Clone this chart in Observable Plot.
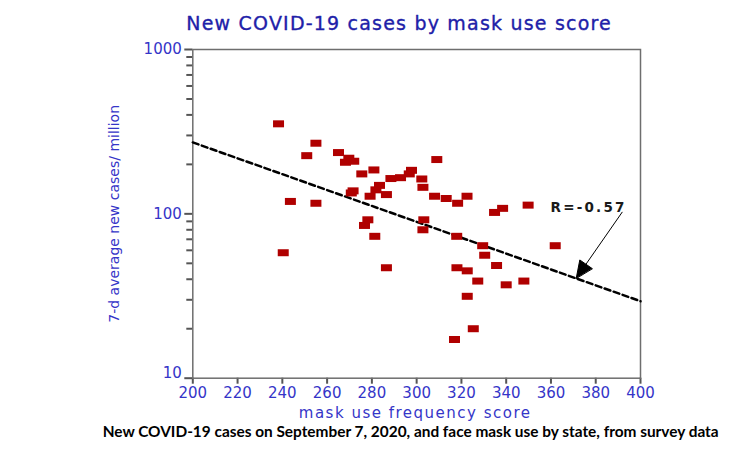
<!DOCTYPE html>
<html>
<head>
<meta charset="utf-8">
<script src="https://cdn.jsdelivr.net/npm/d3@7"></script>
<script src="https://cdn.jsdelivr.net/npm/@observablehq/plot@0.6"></script>
<style>
  body { margin: 0; background: #fff; }
  #chart svg { display: block; }
</style>
</head>
<body>
<div id="chart"></div>
<script>
// ---- data ----
const maskScore = [238.3, 255.0, 250.9, 265.1, 269.7, 268.2, 271.9, 275.5, 280.9, 288.5,
  292.8, 297.7, 296.7, 309.0, 302.3, 302.8, 271.6, 270.8, 283.4, 281.8,
  279.2, 286.5, 243.6, 255.0, 308.0, 313.2, 318.3, 322.5, 334.8, 338.4,
  349.8, 278.2, 276.7, 303.2, 302.8, 281.3, 317.9, 329.5, 330.4, 361.9,
  335.7, 240.4, 286.5, 318.0, 322.6, 327.3, 340.0, 347.9, 322.6, 325.3, 316.9];
const casesPerMillion = [353, 269, 226, 236, 218, 206, 209, 175, 185, 164,
  166, 184, 175, 214, 163, 145, 138, 134, 149, 140,
  128, 131, 119, 116, 128, 124, 116, 128, 102, 108,
  113, 92, 85, 92, 80, 73, 73, 64, 56, 64,
  48.5, 58, 47, 47, 45, 39, 37, 39, 31.5, 20, 17.2];

const xTicks = [200, 220, 240, 260, 280, 300, 320, 340, 360, 380, 400];
const yMajorTicks = [100, 1000];
const yBottomTick = [10];
const yMinorTicks = [20, 30, 40, 50, 60, 70, 80, 90, 200, 300, 400, 500, 600, 700, 800, 900];

const fitX = [200, 400];
const fitY = [272, 29.4];

const arrowFrom = [391.8, 102.3];
const arrowTo = [371.3, 40.6];
const rText = "R=-0.57";
const rPos = [376.8, 109.7];

const titleText = "New COVID-19 cases by mask use score";
const xLabel = "mask use frequency score";
const yLabel = "7-d average new cases/ million";
const captionText = "New COVID-19 cases on September 7, 2020, and face mask use by state, from survey data";

// ---- tables built from the arrays ----
const points = maskScore.map((x, i) => ({x, y: casesPerMillion[i]}));
const fit = fitX.map((x, i) => ({x, y: fitY[i]}));
const arrowData = [{x1: arrowFrom[0], y1: arrowFrom[1], x2: arrowTo[0], y2: arrowTo[1]}];

const W = 750, H = 459, ML = 192.3, MR = 110, MT = 49, MB = 81.3;

const blue = "#3535c8";
const grey = "#6e6e6e";
const tickGrey = "#555";
const rectSymbol = {draw(context) { context.rect(-5.5, -3.5, 11, 7); }};

const chart = Plot.plot({
  width: W,
  height: H,
  marginLeft: ML,
  marginRight: MR,
  marginTop: MT,
  marginBottom: MB,
  style: {fontFamily: "'DejaVu Sans', sans-serif", background: "#fff"},
  x: {domain: [200, 400]},
  y: {type: "log", domain: [10, 1000]},
  marks: [
    Plot.axisX({ticks: xTicks, tickSize: 6, tickPadding: 3, fontSize: 15, stroke: tickGrey, strokeWidth: 2, fill: blue, label: null, tickFormat: d => String(d)}),
    Plot.axisY({ticks: yMinorTicks, tickSize: 6, tickPadding: 3, stroke: tickGrey, strokeWidth: 2, label: null, tickFormat: () => ""}),
    Plot.axisY({ticks: yMajorTicks, tickSize: 8, tickPadding: 3, fontSize: 15, stroke: tickGrey, strokeWidth: 2, fill: blue, label: null, tickFormat: d => String(d)}),
    Plot.axisY({ticks: yBottomTick, tickSize: 8, tickPadding: 3, stroke: tickGrey, strokeWidth: 2, label: null, tickFormat: () => ""}),
    Plot.text(yBottomTick, {y: d => d, text: d => String(d), frameAnchor: "left", dx: -11, dy: -5, textAnchor: "end", fontSize: 15, fill: blue}),
    Plot.frame({stroke: grey, strokeWidth: 1.5}),
    Plot.line(fit, {x: "x", y: "y", stroke: "black", strokeWidth: 2.5, strokeDasharray: "6,3.5"}),
    Plot.dot(points, {x: "x", y: "y", symbol: rectSymbol, r: 4, fill: "#b00000", stroke: "none"}),
    Plot.arrow(arrowData, {
      x1: "x1", y1: "y1", x2: "x2", y2: "y2", stroke: "black", strokeWidth: 1, headLength: 0,
      render(index, scales, values, dimensions, context, next) {
        const g = next(index, scales, values, dimensions, context);
        const X1 = values.x1, Y1 = values.y1, X2 = values.x2, Y2 = values.y2;
        for (const i of index) {
          const dx = X2[i] - X1[i], dy = Y2[i] - Y1[i], L = Math.hypot(dx, dy);
          const ux = dx / L, uy = dy / L, hl = 17, hw = 7.5;
          const bx = X2[i] - ux * hl, by = Y2[i] - uy * hl;
          const pts = [[X2[i], Y2[i]], [bx - uy * hw, by + ux * hw], [bx + uy * hw, by - ux * hw]];
          const poly = document.createElementNS("http://www.w3.org/2000/svg", "polygon");
          poly.setAttribute("points", pts.map(p => p.join(",")).join(" "));
          poly.setAttribute("fill", "black");
          g.appendChild(poly);
        }
        return g;
      }
    }),
    Plot.text([rText], {x: () => rPos[0], y: () => rPos[1], text: d => d, fontSize: 13.5, fontWeight: "bold", fill: "#1a1a1a"}),
    Plot.text([titleText], {text: d => d, frameAnchor: "top", dx: -17.5, dy: -26, textAnchor: "middle", lineAnchor: "middle", fontSize: 19, fill: "#2020a8", stroke: "#2020a8", strokeWidth: 0.35}),
    Plot.text([xLabel], {text: d => d, frameAnchor: "bottom", dx: -1.5, dy: 35, textAnchor: "middle", lineAnchor: "middle", fontSize: 15, fill: blue}),
    Plot.text([yLabel], {text: d => d, frameAnchor: "left", dx: -78, rotate: -90, textAnchor: "middle", lineAnchor: "middle", fontSize: 14, fill: blue}),
    Plot.text([captionText], {text: d => d, frameAnchor: "bottom", dx: -6, dy: 54, textAnchor: "middle", lineAnchor: "middle", fontSize: 15.4, fontWeight: "bold", fontFamily: "Lato, sans-serif", fill: "#000"})
  ]
});

document.getElementById("chart").appendChild(chart);
const sel = d3.select(chart).selectAll("text");
sel.filter(function() { return this.textContent === rText; }).style("letter-spacing", "2.2px");
sel.filter(function() { return this.textContent === xLabel; }).style("letter-spacing", "1.5px");
sel.filter(function() { return this.textContent === titleText; }).style("letter-spacing", "1.2px");
</script>
</body>
</html>
